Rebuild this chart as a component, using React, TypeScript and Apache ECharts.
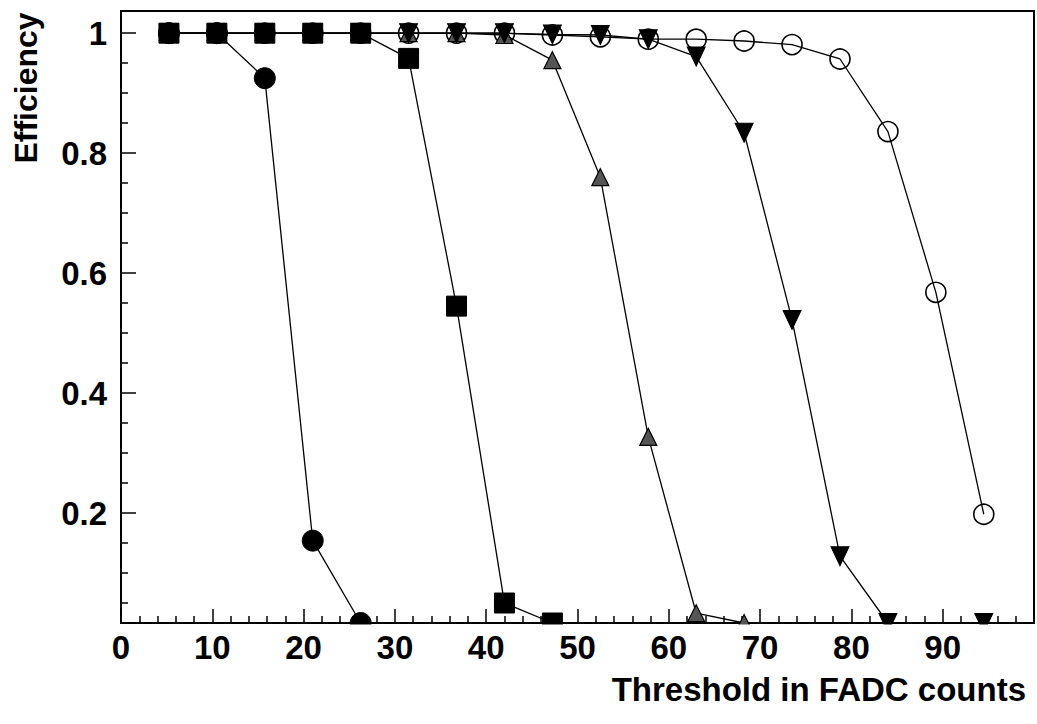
import React, { useEffect, useRef } from "react";
import * as echarts from "echarts";

// Threshold positions (FADC counts)
const X_VALUES = [5.25, 10.5, 15.75, 21, 26.25, 31.5, 36.75, 42, 47.25, 52.5, 57.75, 63, 68.25, 73.5, 78.75, 84, 89.25, 94.5];

// Efficiencies per curve (in X_VALUES order, '-' = no point)
const EFF_FILLED_CIRCLE = [1, 1, 0.925, 0.154, 0];
const EFF_FILLED_SQUARE = [1, 1, 1, 1, 1, 0.958, 0.545, 0.05, 0];
const EFF_HATCHED_TRIANGLE = [1, 1, 1, 1, 1, 1, 1, 0.997, 0.955, 0.76, 0.327, 0.033, 0];
const EFF_DOWN_TRIANGLE: (number | string)[] = [1, 1, 1, 1, 1, 1, 1, 1, 0.998, 0.997, 0.99, 0.961, 0.834, 0.522, 0.128, 0, "-", 0];
const EFF_OPEN_CIRCLE = [1, 1, 1, 1, 1, 1, 1, 1, 0.997, 0.994, 0.99, 0.99, 0.987, 0.981, 0.957, 0.836, 0.568, 0.198];

const Y_MAJOR_TICKS = [0.2, 0.4, 0.6, 0.8, 1];
const Y_MINOR_TICKS = [0.05, 0.1, 0.15, 0.25, 0.3, 0.35, 0.45, 0.5, 0.55, 0.65, 0.7, 0.75, 0.85, 0.9, 0.95];
const X_TICK_LABELS = ["0", "10", "20", "30", "40", "50", "60", "70", "80", "90"];

const Y_MIN = 0.0167;
const Y_MAX = 1.037;
const X_MIN = 0;
const X_MAX = 100;

const FONT = "'Liberation Sans', Arial, Helvetica, sans-serif";

function toData(vals: (number | string)[]) {
  return vals.map((v, i) => [X_VALUES[i], typeof v === "number" ? Math.max(v, Y_MIN) : "-"]);
}

export default function App() {
  const ref = useRef<HTMLDivElement>(null);

  useEffect(() => {
    if (!ref.current) return;
    const chart = echarts.init(ref.current, null, { renderer: "svg" });
    const GRID = { left: 121, right: 3, top: 11, bottom: 101 };
    const plotW = 1037 - GRID.left - GRID.right;
    const axisY = 724 - GRID.bottom;

    const lineBase = {
      type: "line" as const,
      clip: false,
      lineStyle: { color: "#000", width: 1.3 },
      emphasis: { disabled: true },
    };

    chart.setOption({
      animation: false,
      backgroundColor: "#fff",
      grid: { ...GRID, show: true, borderColor: "#000", borderWidth: 2, backgroundColor: "transparent" },
      xAxis: {
        type: "value",
        min: X_MIN,
        max: X_MAX,
        interval: 10,
        axisLine: { show: true, lineStyle: { color: "#000", width: 2 } },
        axisTick: { show: true, inside: true, length: 14, lineStyle: { color: "#000", width: 1.5 } },
        minorTick: { show: true, splitNumber: 5, length: 7, lineStyle: { color: "#000", width: 1.5 } },
        splitLine: { show: false },
        axisLabel: {
          color: "#000",
          fontSize: 33,
          fontWeight: "bold",
          fontFamily: FONT,
          margin: 8,
          formatter: (v: number) => {
            const idx = Math.round(v / 10);
            return idx < X_TICK_LABELS.length ? X_TICK_LABELS[idx] : "";
          },
        },
      },
      yAxis: [
        {
          type: "value",
          min: Y_MIN,
          max: Y_MAX,
          position: "left",
          axisLine: { show: true, lineStyle: { color: "#000", width: 2 } },
          axisTick: { show: true, inside: true, length: 15, customValues: Y_MAJOR_TICKS, lineStyle: { color: "#000", width: 1.5 } },
          splitLine: { show: false },
          axisLabel: {
            customValues: Y_MAJOR_TICKS,
            color: "#000",
            fontSize: 33,
            fontWeight: "bold",
            fontFamily: FONT,
            margin: 14,
            formatter: (v: number) => (Math.abs(v - 1) < 1e-9 ? "1" : v.toFixed(1)),
          },
        },
        {
          type: "value",
          min: Y_MIN,
          max: Y_MAX,
          position: "left",
          offset: 0,
          axisLine: { show: false },
          axisTick: { show: true, inside: true, length: 7, customValues: Y_MINOR_TICKS, lineStyle: { color: "#000", width: 1.5 } },
          splitLine: { show: false },
          axisLabel: { show: false },
        },
      ],
      graphic: [
        {
          type: "rect",
          z: 50,
          shape: { x: GRID.left + 1, y: axisY + 1.5, width: plotW - 1, height: 10 },
          style: { fill: "#fff" },
          silent: true,
        },
        {
          type: "text",
          z: 60,
          x: 1026,
          y: 689,
          style: {
            text: "Threshold in FADC counts",
            fill: "#000",
            font: `bold 33px ${FONT}`,
            textAlign: "right",
            textVerticalAlign: "middle",
          },
        },
        {
          type: "text",
          z: 60,
          x: 26,
          y: 88,
          rotation: Math.PI / 2,
          style: {
            text: "Efficiency",
            fill: "#000",
            font: `bold 32px ${FONT}`,
            textAlign: "center",
            textVerticalAlign: "middle",
          },
        },
      ],
      series: [
        {
          ...lineBase,
          name: "open circle",
          data: toData(EFF_OPEN_CIRCLE),
          symbol: "circle",
          symbolSize: 20,
          itemStyle: { color: "rgba(255,255,255,0)", borderColor: "#000", borderWidth: 1.6 },
        },
        {
          ...lineBase,
          name: "hatched triangle",
          data: toData(EFF_HATCHED_TRIANGLE),
          symbol: "triangle",
          symbolSize: [17, 17],
          itemStyle: { color: "#555", borderColor: "#000", borderWidth: 1.2 },
        },
        {
          ...lineBase,
          name: "down triangle",
          data: toData(EFF_DOWN_TRIANGLE),
          symbol: "triangle",
          symbolRotate: 180,
          symbolSize: [18, 19],
          itemStyle: { color: "#000", borderColor: "#000", borderWidth: 1 },
        },
        {
          ...lineBase,
          name: "filled square",
          data: toData(EFF_FILLED_SQUARE),
          symbol: "rect",
          symbolSize: 20,
          itemStyle: { color: "#000", borderColor: "#000", borderWidth: 1 },
        },
        {
          ...lineBase,
          name: "filled circle",
          data: toData(EFF_FILLED_CIRCLE),
          symbol: "circle",
          symbolSize: 21,
          itemStyle: { color: "#000", borderColor: "#000", borderWidth: 1 },
        },
      ],
    });
    return () => chart.dispose();
  }, []);

  return (
    <div
      ref={ref}
      style={{ position: "fixed", left: 0, top: 0, width: 1037, height: 724, background: "#fff" }}
    />
  );
}
